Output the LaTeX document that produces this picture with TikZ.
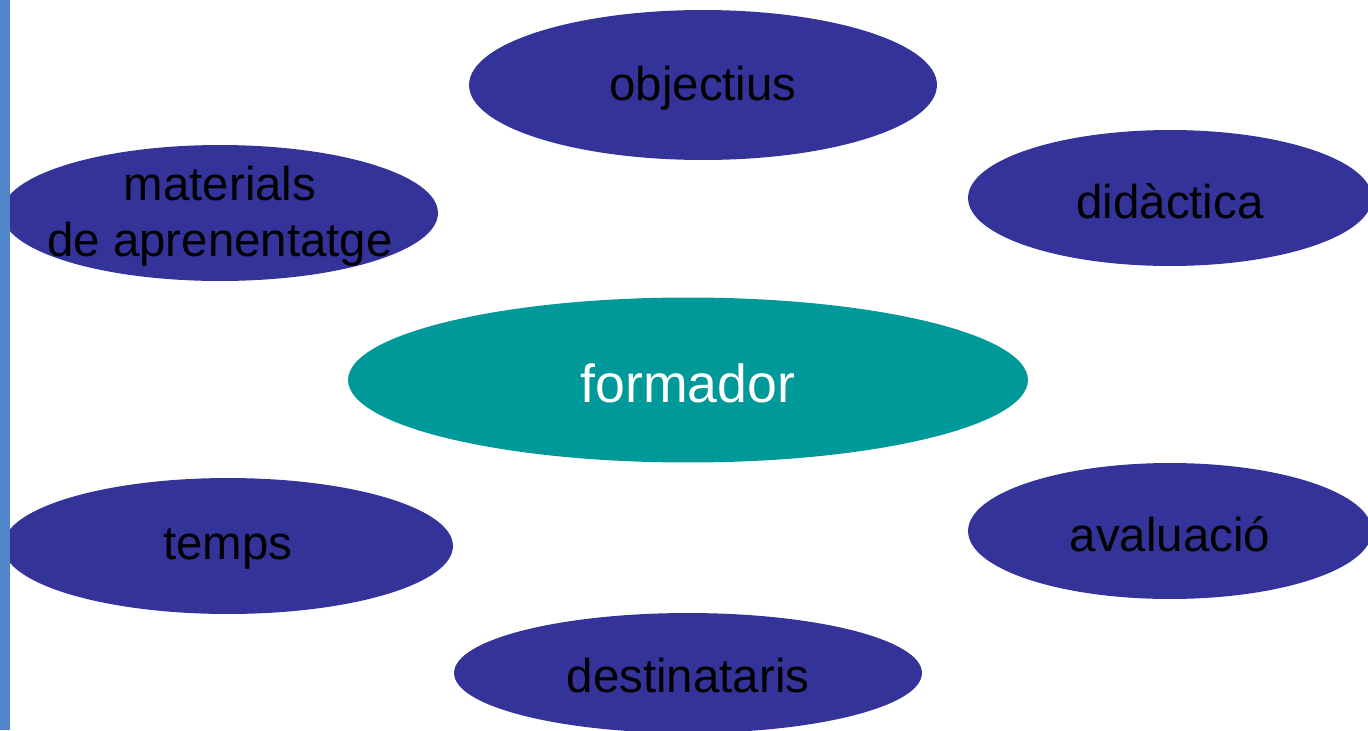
\documentclass[tikz,border=0pt]{standalone}
\usepackage{fontspec}
\setmainfont{Liberation Sans}
\usetikzlibrary{shapes.geometric}

\definecolor{bubbleblue}{HTML}{333399}
\definecolor{bubbleteal}{HTML}{009999}
\definecolor{sidebar}{HTML}{4F87C8}

\tikzset{
  bubble/.style={ellipse, fill=bubbleblue, inner sep=0pt, outer sep=0pt},
  word/.style={font=\fontsize{27}{32}\selectfont, text=black, align=center,
    inner sep=0pt, yshift=-0.06cm},
}

\begin{document}
\begin{tikzpicture}[x=0.02cm, y=-0.02cm]
\useasboundingbox (0,0) rectangle (1368,730);
\clip (0,0) rectangle (1368,730);
\fill[white] (0,0) rectangle (1368,730);

\node[bubble, minimum width=9.36cm, minimum height=3cm,
  label={[word]center:objectius}] (obj) at (703,85) {};
\node[bubble, minimum width=8.72cm, minimum height=2.72cm,
  label={[word]center:materials\\de aprenentatge}] (mat) at (220,213) {};
\node[bubble, minimum width=8.08cm, minimum height=2.72cm,
  label={[word]center:didàctica}] (did) at (1170,198) {};
\node[bubble, fill=bubbleteal, minimum width=13.6cm, minimum height=3.3cm,
  label={[word, text=white, font=\fontsize{30.5}{36}\selectfont]center:formador}] (form) at (688,380) {};
\node[bubble, minimum width=9cm, minimum height=2.72cm,
  label={[word]center:temps}] (temps) at (228,546) {};
\node[bubble, minimum width=8.08cm, minimum height=2.72cm,
  label={[word]center:avaluació}] (aval) at (1170,531) {};
\node[bubble, minimum width=9.36cm, minimum height=2.4cm,
  label={[word]center:destinataris}] (dest) at (688,673) {};

% side bar
\fill[sidebar] (0,0) rectangle (10,730);
\end{tikzpicture}
\end{document}
